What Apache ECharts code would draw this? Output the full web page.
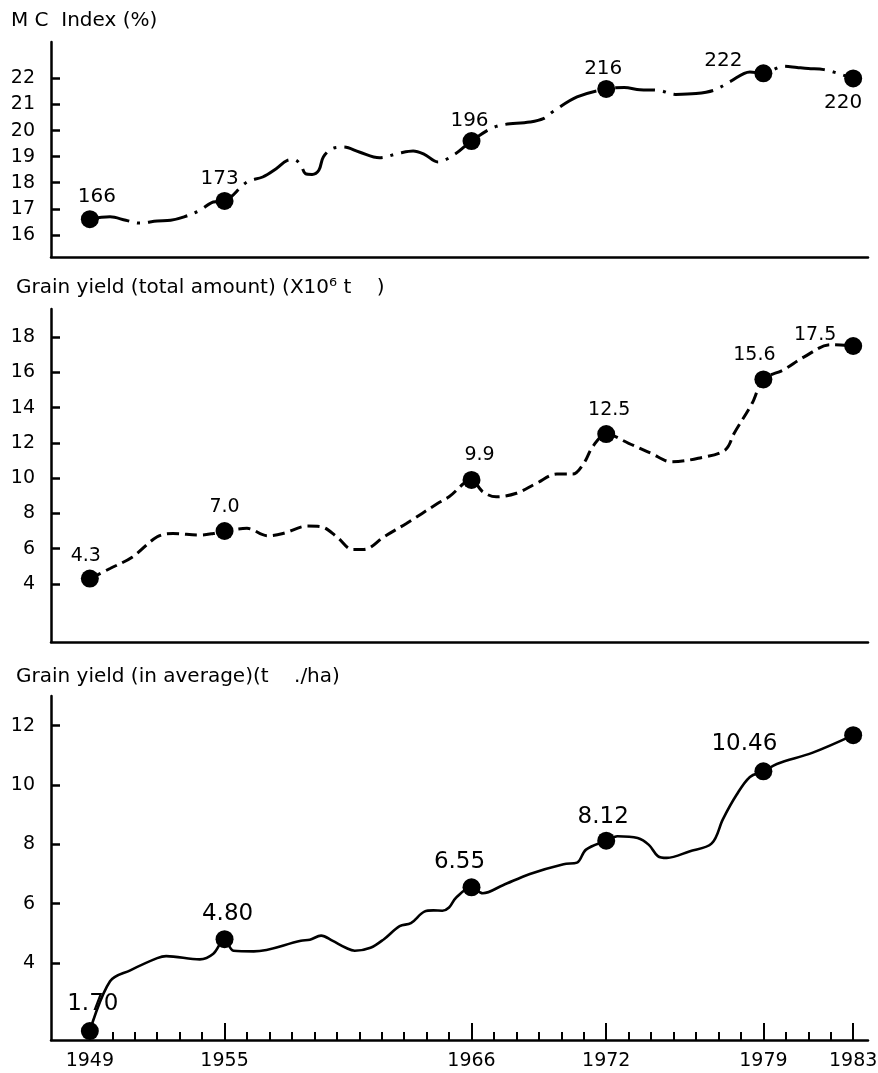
<!DOCTYPE html>
<html>
<head>
<meta charset="utf-8">
<title>MC index and grain yield, 1949-1983</title>
<script src="https://cdn.jsdelivr.net/npm/echarts@6/dist/echarts.min.js"></script>
<style>
  html, body { margin: 0; padding: 0; background: #fff; }
  #chart { width: 878px; height: 1073px; }
</style>
</head>
<body>
<div id="chart"></div>
<script>
// ---- data -------------------------------------------------------------
// Marked years (shared by all three panels) and the years carrying x-axis labels
const markYears = [1949, 1955, 1966, 1972, 1979, 1983];
const labelYears = [1949, 1955, 1966, 1972, 1979, 1983];

// MC index: marked values (stated as per-mille) and the trace between them
const mcMarks = [166, 173, 196, 216, 222, 220];
const mcTraceYears = [1949.9, 1950.6, 1951.2, 1952.0, 1952.6, 1953.2, 1953.9, 1954.5,
  1956.0, 1956.7, 1957.3, 1957.8, 1958.1, 1958.4, 1958.6, 1958.9, 1959.2, 1959.4, 1959.8,
  1960.3, 1961.0, 1961.9, 1962.8, 1963.4, 1963.9, 1964.5, 1965.3, 1967.1, 1968.6, 1969.2,
  1969.6, 1970.7, 1972.8, 1973.5, 1974.3, 1975.1, 1976.0, 1976.8, 1977.5, 1978.4, 1979.9,
  1980.5, 1981.0, 1981.7];
const mcTraceValues = [166.9, 165.6, 164.5, 165.3, 165.6, 166.9, 169.4, 172.6,
  180.3, 182.2, 185.4, 188.6, 188.9, 186.7, 183.5, 183.2, 184.8, 189.9, 193.1,
  193.7, 191.8, 189.6, 191.4, 192.2, 190.9, 188.0, 191.2, 201.6, 203.3, 204.6,
  207.1, 212.9, 216.5, 215.7, 215.5, 213.9, 214.2, 215.5, 218.7, 222.5, 224.7,
  224.2, 223.8, 223.4];
const mcTicks = [160, 170, 180, 190, 200, 210, 220];

// Grain yield, total amount (x10^6 t)
const totalMarks = [4.3, 7.0, 9.9, 12.5, 15.6, 17.5];
const totalTraceYears = [1949.9, 1950.9, 1952.0, 1952.7, 1953.9, 1954.5, 1956.0, 1956.9,
  1957.6, 1958.7, 1959.3, 1960.0, 1960.7, 1961.2, 1962.1, 1963.1, 1964.5, 1965.0, 1966.5,
  1967.1, 1968.0, 1968.9, 1969.8, 1970.5, 1971.0, 1971.4, 1973.0, 1974.0, 1974.9, 1976.1,
  1977.3, 1977.7, 1978.5, 1979.9, 1980.8, 1982.0];
const totalTraceValues = [4.87, 5.53, 6.67, 6.86, 6.77, 6.86, 7.15, 6.73,
  6.86, 7.28, 7.24, 6.67, 5.95, 5.95, 6.67, 7.43, 8.57, 8.94, 9.23,
  8.94, 9.14, 9.71, 10.23, 10.23, 10.84, 11.79, 11.98, 11.41, 10.93, 11.13,
  11.6, 12.55, 14.25, 16.15, 16.87, 17.57];
const totalTicks = [4, 6, 8, 10, 12, 14, 16, 18];

// Grain yield, average (t/ha); the 1983 point carries no printed value
const avgMarks = [1.70, 4.80, 6.55, 8.12, 10.46, 11.68];
const avgMarkLabelled = [true, true, true, true, true, false];
const avgTraceYears = [1949.9, 1950.8, 1952.0, 1952.4, 1953.9, 1954.5, 1955.4, 1956.3,
  1958.4, 1958.8, 1959.3, 1959.8, 1960.4, 1960.8, 1961.5, 1962.1, 1962.8, 1963.3, 1963.9,
  1964.3, 1964.7, 1965.0, 1965.3, 1966.5, 1967.4, 1968.6, 1970.1, 1970.7, 1971.1, 1972.5,
  1973.4, 1973.9, 1974.3, 1974.7, 1975.7, 1976.7, 1977.2, 1977.8, 1978.4, 1979.6, 1981.2];
const avgTraceValues = [3.38, 3.75, 4.16, 4.23, 4.12, 4.31, 4.41, 4.39,
  4.75, 4.78, 4.92, 4.75, 4.51, 4.41, 4.51, 4.80, 5.24, 5.34, 5.73,
  5.77, 5.76, 5.87, 6.19, 6.35, 6.62, 7.0, 7.33, 7.38, 7.82, 8.27,
  8.21, 7.98, 7.60, 7.54, 7.76, 8.03, 8.85, 9.66, 10.27, 10.71, 11.09];
const avgTicks = [4, 6, 8, 10, 12];

// ---- layout / styling (kept apart from the values) --------------------
const FONT = '"DejaVu Sans", sans-serif';
const INK = '#000';
const X_MIN = 1947.27, X_MAX = 1983.66;
const yearTicks = [];
for (let y = 1949; y <= 1983; y++) yearTicks.push(y);

// label offsets (px) from each marker's centre
const mcLabelOffsets = [[7, -22], [-5, -22], [-2, -20], [-3, -20], [-40, -12], [-10, 24]];
const totalLabelOffsets = [[-4, -23], [0, -24], [8, -25], [3, -24], [-9, -24], [-38, -11]];
const avgLabelOffsets = [[3, -27], [3, -25], [-12, -25], [-3, -24], [-19, -27], [0, 0]];

function mergeTrace(mYears, mVals, tYears, tVals) {
  const pts = mYears.map((y, i) => [y, mVals[i]]);
  tYears.forEach((y, i) => pts.push([y, tVals[i]]));
  return pts.sort((a, b) => a[0] - b[0]);
}

function markData(vals, offsets, shown) {
  return vals.map((v, i) => ({
    value: [markYears[i], v],
    label: { show: shown ? shown[i] : true, offset: offsets[i] }
  }));
}

const axisLine = { show: true, onZero: false, lineStyle: { color: INK, width: 2.5 } };

function plainX(grid) {
  return {
    gridIndex: grid, type: 'value', min: X_MIN, max: X_MAX, position: 'bottom',
    axisLine: axisLine, axisTick: { show: false }, axisLabel: { show: false },
    splitLine: { show: false }
  };
}

function valueY(grid, min, max, ticks, fmt) {
  return {
    gridIndex: grid, type: 'value', min: min, max: max,
    axisLine: axisLine,
    axisTick: { show: true, inside: true, length: 9, customValues: ticks,
      lineStyle: { color: INK, width: 2.5 } },
    axisLabel: { show: true, customValues: ticks, margin: 16, fontSize: 19,
      color: INK, fontFamily: FONT, formatter: fmt },
    splitLine: { show: false }
  };
}

const titleStyle = { fontSize: 20, fontWeight: 'normal', color: INK, fontFamily: FONT };
const markStyle = { color: INK, opacity: 1 };

const chart = echarts.init(document.getElementById('chart'), null, { renderer: 'canvas' });

chart.setOption({
  backgroundColor: '#fff',
  animation: false,
  title: [
    { text: 'M C  Index (%)', left: 11, top: 11, padding: 0, textStyle: titleStyle },
    { text: 'Grain yield (total amount) (X10\u2076 t    )', left: 16, top: 278, padding: 0,
      textStyle: titleStyle },
    { text: 'Grain yield (in average)(t    ./ha)', left: 16, top: 667, padding: 0,
      textStyle: titleStyle }
  ],
  grid: [
    { left: 51, right: 10, top: 42, height: 215, outerBoundsMode: 'none' },
    { left: 51, right: 10, top: 309, height: 333, outerBoundsMode: 'none' },
    { left: 51, right: 10, top: 696, height: 344, outerBoundsMode: 'none' }
  ],
  xAxis: [
    plainX(0),
    plainX(1),
    {
      gridIndex: 2, type: 'value', min: X_MIN, max: X_MAX, position: 'bottom',
      axisLine: axisLine,
      axisTick: { show: true, inside: true, length: 8, customValues: yearTicks,
        lineStyle: { color: INK, width: 2 } },
      axisLabel: { show: true, customValues: labelYears, margin: 12, fontSize: 19,
        color: INK, fontFamily: FONT, formatter: v => String(v) },
      splitLine: { show: false }
    },
    {
      gridIndex: 2, type: 'value', min: X_MIN, max: X_MAX, position: 'bottom',
      axisLine: { show: false },
      axisTick: { show: true, inside: true, length: 17, customValues: labelYears,
        lineStyle: { color: INK, width: 2 } },
      axisLabel: { show: false },
      splitLine: { show: false }
    }
  ],
  yAxis: [
    valueY(0, 151.5, 234, mcTicks, v => String(v / 10)),
    valueY(1, 0.7, 19.6, totalTicks, v => String(v)),
    valueY(2, 1.4, 13, avgTicks, v => String(v))
  ],
  series: [
    {
      type: 'line', xAxisIndex: 0, yAxisIndex: 0, smooth: 0.35, showSymbol: false,
      data: mergeTrace(markYears, mcMarks, mcTraceYears, mcTraceValues),
      lineStyle: { color: INK, width: 3, type: [40, 8, 3, 8] }
    },
    {
      type: 'scatter', xAxisIndex: 0, yAxisIndex: 0, symbolSize: 18,
      itemStyle: markStyle,
      label: { show: true, position: 'inside', color: INK, fontSize: 20,
        fontFamily: FONT, formatter: p => String(p.value[1]) },
      data: markData(mcMarks, mcLabelOffsets)
    },
    {
      type: 'line', xAxisIndex: 1, yAxisIndex: 1, smooth: 0.35, showSymbol: false,
      data: mergeTrace(markYears, totalMarks, totalTraceYears, totalTraceValues),
      lineStyle: { color: INK, width: 3, type: [12, 6] }
    },
    {
      type: 'scatter', xAxisIndex: 1, yAxisIndex: 1, symbolSize: 18,
      itemStyle: markStyle,
      label: { show: true, position: 'inside', color: INK, fontSize: 19,
        fontFamily: FONT, formatter: p => p.value[1].toFixed(1) },
      data: markData(totalMarks, totalLabelOffsets)
    },
    {
      type: 'line', xAxisIndex: 2, yAxisIndex: 2, smooth: 0.35, showSymbol: false,
      data: mergeTrace(markYears, avgMarks, avgTraceYears, avgTraceValues),
      lineStyle: { color: INK, width: 2.6, type: 'solid' }
    },
    {
      type: 'scatter', xAxisIndex: 2, yAxisIndex: 2, symbolSize: 18,
      itemStyle: markStyle,
      label: { show: true, position: 'inside', color: INK, fontSize: 23,
        fontFamily: FONT, formatter: p => p.value[1].toFixed(2) },
      data: markData(avgMarks, avgLabelOffsets, avgMarkLabelled)
    }
  ]
});
</script>
</body>
</html>
